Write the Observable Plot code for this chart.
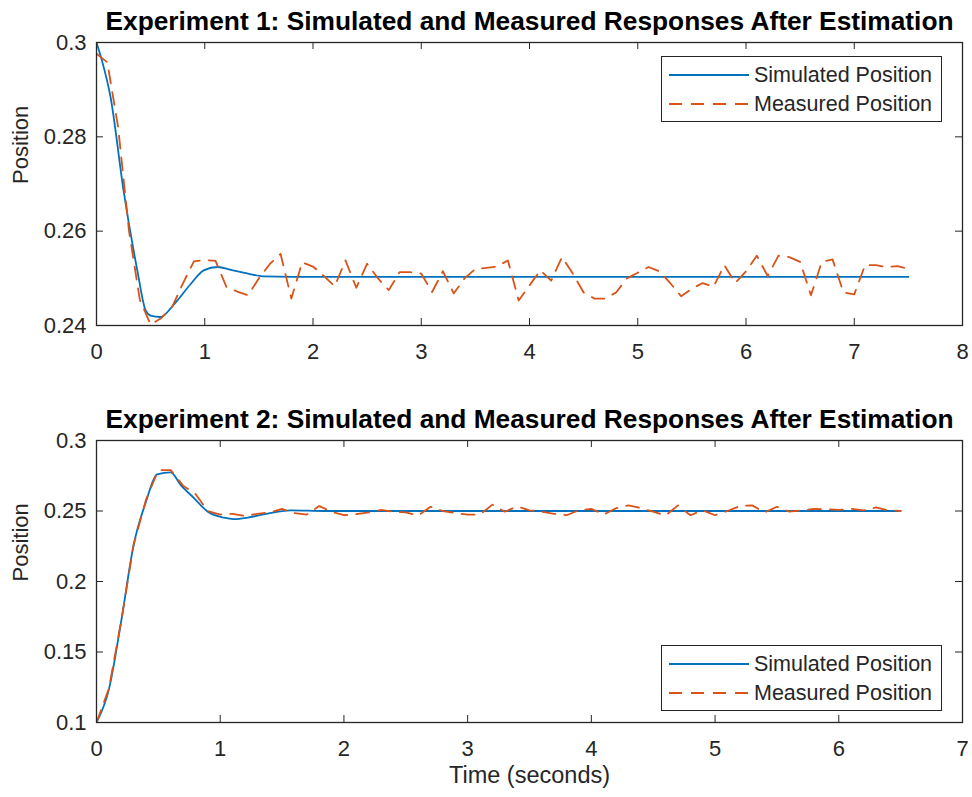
<!DOCTYPE html>
<html>
<head>
<meta charset="utf-8">
<script src="https://cdn.jsdelivr.net/npm/d3@7"></script>
<script src="https://cdn.jsdelivr.net/npm/@observablehq/plot@0.6"></script>
<style>
  html, body { margin: 0; padding: 0; background: #fff; }
  #wrap { position: relative; width: 972px; height: 797px; font-family: "Liberation Sans", Arial, sans-serif; }
  #wrap svg { display: block; }
  .legend { position: absolute; left: 661px; width: 281px; height: 66px; border: 1.5px solid #262626; background: #fff; box-sizing: border-box; }
  .legend .row { position: absolute; left: 6px; height: 26px; display: flex; align-items: center; font-size: 21.5px; color: #262626; white-space: nowrap; }
  .legend .row svg { margin-right: 4px; }
</style>
</head>
<body>
<div id="wrap"></div>
<script>
// ---------- Data ----------
const exp1Title = "Experiment 1: Simulated and Measured Responses After Estimation";
const exp2Title = "Experiment 2: Simulated and Measured Responses After Estimation";
const xLabel = "Time (seconds)";
const yLabel = "Position";
const seriesNames = ["Simulated Position", "Measured Position"];

const exp1XTicks = [0, 1, 2, 3, 4, 5, 6, 7, 8];
const exp1YTicks = [0.24, 0.26, 0.28, 0.3];
const exp2XTicks = [0, 1, 2, 3, 4, 5, 6, 7];
const exp2YTicks = [0.1, 0.15, 0.2, 0.25, 0.3];

// Experiment 1 – measured (sampled every 0.1 s)
const exp1MeasTime = [0.0,0.1,0.2,0.3,0.4,0.5,0.6,0.7,0.8,0.9,1.0,1.1,1.2,1.3,1.4,1.5,1.6,1.7,1.8,1.9,
  2.0,2.1,2.2,2.3,2.4,2.5,2.6,2.7,2.8,2.9,3.0,3.1,3.2,3.3,3.4,3.5,3.6,3.7,3.8,3.9,
  4.0,4.1,4.2,4.3,4.4,4.5,4.6,4.7,4.8,4.9,5.0,5.1,5.2,5.3,5.4,5.5,5.6,5.7,5.8,5.9,
  6.0,6.1,6.2,6.3,6.4,6.5,6.6,6.7,6.8,6.9,7.0,7.1,7.2,7.3,7.4,7.5];
const exp1MeasPos = [0.2976,0.2958,0.2820,0.2601,0.2455,0.2402,0.2416,0.2440,0.2490,0.2536,
  0.2539,0.2537,0.2482,0.2472,0.2464,0.2500,0.2530,0.2552,0.2457,0.2534,
  0.2525,0.2505,0.2483,0.2538,0.2480,0.2531,0.2500,0.2475,0.2513,0.2513,
  0.2510,0.2471,0.2515,0.2468,0.2500,0.2520,0.2522,0.2525,0.2538,0.2453,
  0.2485,0.2517,0.2495,0.2545,0.2510,0.2470,0.2457,0.2457,0.2470,0.2500,
  0.2512,0.2524,0.2515,0.2490,0.2462,0.2478,0.2490,0.2482,0.2528,0.2490,
  0.2515,0.2548,0.2505,0.2548,0.2545,0.2535,0.2464,0.2535,0.2540,0.2470,
  0.2466,0.2528,0.2528,0.2524,0.2526,0.2520];

// Experiment 1 – simulated
const exp1SimTime = [0, 0.05, 0.13, 0.25, 0.377, 0.454, 0.5, 0.59, 0.72, 0.87, 0.99, 1.12, 1.24, 1.40, 1.55, 1.80, 7.5];
const exp1SimPos  = [0.3, 0.2962, 0.2884, 0.2686, 0.2517, 0.2432, 0.2421, 0.2418, 0.2446, 0.2488, 0.2517, 0.2524, 0.2518, 0.2510, 0.2504, 0.2503, 0.2503];

// Experiment 2 – measured (sampled every 0.1 s)
const exp2MeasTime = [0.0,0.1,0.2,0.3,0.4,0.5,0.6,0.7,0.8,0.9,1.0,1.1,1.2,1.3,1.4,1.5,1.6,1.7,1.8,1.9,
  2.0,2.1,2.2,2.3,2.4,2.5,2.6,2.7,2.8,2.9,3.0,3.1,3.2,3.3,3.4,3.5,3.6,3.7,3.8,3.9,
  4.0,4.1,4.2,4.3,4.4,4.5,4.6,4.7,4.8,4.9,5.0,5.1,5.2,5.3,5.4,5.5,5.6,5.7,5.8,5.9,
  6.0,6.1,6.2,6.3,6.4,6.5];
const exp2MeasPos = [0.100,0.124,0.172,0.226,0.258,0.279,0.279,0.268,0.262,0.250,
  0.2475,0.2480,0.2465,0.2480,0.2490,0.2515,0.2485,0.2475,0.2535,0.2495,
  0.2470,0.2478,0.2490,0.2508,0.2495,0.2490,0.2468,0.2530,0.2500,0.2485,
  0.2475,0.2475,0.2545,0.2495,0.2532,0.2505,0.2495,0.2480,0.2470,0.2505,
  0.2515,0.2475,0.2520,0.2540,0.2520,0.2495,0.2468,0.2540,0.2470,0.2505,
  0.2470,0.2500,0.2535,0.2540,0.2490,0.2530,0.2495,0.2505,0.2515,0.2512,
  0.2508,0.2515,0.2505,0.2525,0.2505,0.2500];

// Experiment 2 – simulated
const exp2SimTime = [0, 0.1, 0.2, 0.30, 0.40, 0.49, 0.60, 0.68, 0.79, 0.90, 1.03, 1.11, 1.22, 1.35, 1.57, 1.84, 6.5];
const exp2SimPos  = [0.1, 0.1235, 0.172, 0.2259, 0.2566, 0.2760, 0.2774, 0.2685, 0.2590, 0.2495, 0.2453, 0.2443, 0.2453, 0.2476, 0.2505, 0.2500, 0.2500];

// ---------- Styling ----------
const BLUE = "#0072BD", ORANGE = "#D95319", AX = "#262626";
const FONT = "Liberation Sans, Arial, sans-serif";
const DASH = "13,9";
const TICKFONT = 22;

function panel({title, simT, simY, measT, measY, xDomain, yDomain, xTicks, yTicks, height, marginTop, marginBottom, showXLabel, yFmt}) {
  const sim = simT.map((t, i) => ({t, v: simY[i]}));
  const meas = measT.map((t, i) => ({t, v: measY[i]}));
  const W = 972, ML = 96, MR = 10;
  const fw = W - ML - MR, fh = height - marginTop - marginBottom;
  const tick = 7;
  const marks = [
    Plot.line(sim, {x: "t", y: "v", stroke: BLUE, strokeWidth: 1.8, curve: "monotone-x", clip: true}),
    Plot.line(meas, {x: "t", y: "v", stroke: ORANGE, strokeWidth: 1.8, strokeDasharray: DASH, clip: true}),
    Plot.tickX(xTicks, {x: d => d, stroke: AX, insetTop: fh - tick}),
    Plot.tickX(xTicks, {x: d => d, stroke: AX, insetBottom: fh - tick}),
    Plot.tickY(yTicks, {y: d => d, stroke: AX, insetRight: fw - tick}),
    Plot.tickY(yTicks, {y: d => d, stroke: AX, insetLeft: fw - tick}),
    Plot.frame({stroke: AX, strokeWidth: 1.3}),
    Plot.axisX({ticks: xTicks, tickSize: 0, tickPadding: 18, tickFormat: d => String(d), label: null, fontSize: TICKFONT, fill: AX}),
    Plot.axisY({ticks: yTicks, tickSize: 0, tickPadding: 10, tickFormat: yFmt, label: null, fontSize: TICKFONT, fill: AX}),
    Plot.text([title], {frameAnchor: "top", dy: -21, lineAnchor: "middle", fontWeight: "bold", fontSize: 26.3, fill: "#000"}),
    Plot.text([yLabel], {frameAnchor: "left", dx: -76, rotate: -90, lineAnchor: "middle", fontSize: 22, fill: AX})
  ];
  if (showXLabel) marks.push(Plot.text([xLabel], {frameAnchor: "bottom", dy: 53, lineAnchor: "middle", fontSize: 23.5, fill: AX}));
  return Plot.plot({
    width: W, height, marginLeft: ML, marginRight: MR, marginTop, marginBottom,
    style: {fontFamily: FONT, background: "#fff", overflow: "visible"},
    x: {domain: xDomain}, y: {domain: yDomain},
    marks
  });
}

const wrap = document.getElementById("wrap");
wrap.appendChild(panel({
  title: exp1Title, simT: exp1SimTime, simY: exp1SimPos, measT: exp1MeasTime, measY: exp1MeasPos,
  xDomain: [0, 8], yDomain: [0.24, 0.3], xTicks: exp1XTicks, yTicks: exp1YTicks,
  height: 398, marginTop: 42, marginBottom: 73, showXLabel: false,
  yFmt: d => String(+d.toFixed(2))
}));
wrap.appendChild(panel({
  title: exp2Title, simT: exp2SimTime, simY: exp2SimPos, measT: exp2MeasTime, measY: exp2MeasPos,
  xDomain: [0, 7], yDomain: [0.1, 0.3], xTicks: exp2XTicks, yTicks: exp2YTicks,
  height: 399, marginTop: 42, marginBottom: 75, showXLabel: true,
  yFmt: d => String(+d.toFixed(2))
}));

function legend(top) {
  const div = document.createElement("div");
  div.className = "legend";
  div.style.top = top + "px";
  const rows = [[seriesNames[0], BLUE, null], [seriesNames[1], ORANGE, DASH]];
  rows.forEach(([name, color, dash], i) => {
    const row = document.createElement("div");
    row.className = "row";
    row.style.top = (5 + i * 29) + "px";
    row.innerHTML = `<svg width="82" height="10"><line x1="1" y1="5" x2="81" y2="5" stroke="${color}" stroke-width="1.8" ${dash ? `stroke-dasharray="${dash}"` : ""}/></svg><span>${name}</span>`;
    div.appendChild(row);
  });
  wrap.appendChild(div);
}
legend(56);
legend(645);
</script>
</body>
</html>
